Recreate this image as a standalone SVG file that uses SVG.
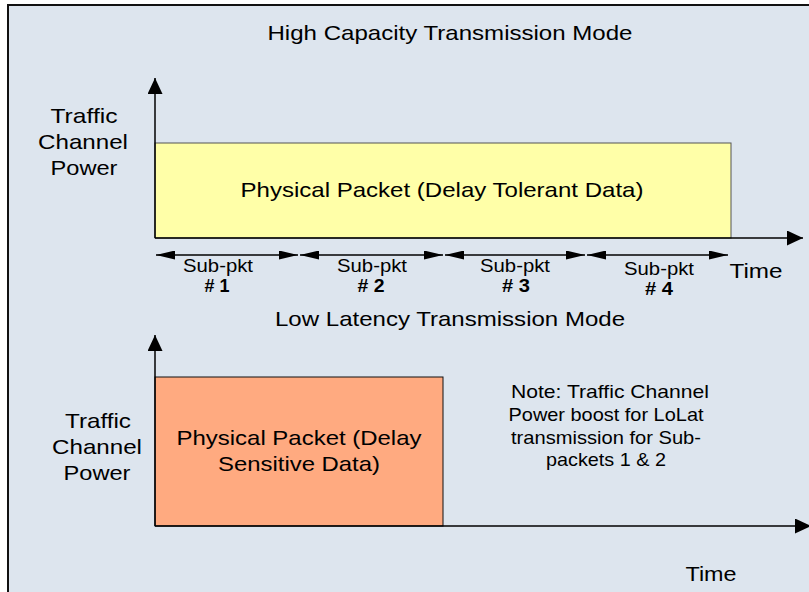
<svg xmlns="http://www.w3.org/2000/svg" width="809" height="592" viewBox="0 0 809 592">
<defs>
<style>
text{font-family:"Liberation Sans",Arial,sans-serif;fill:#000;text-anchor:middle}
.big{font-size:21px}
.lbl{font-size:21px}
.sm{font-size:18px}
.num{font-size:18px;font-weight:bold}
.note{font-size:19px}
.ax{stroke:#000;stroke-width:1.5;fill:none}
.sub{stroke:#000;stroke-width:1.3;fill:none}
</style>
<marker id="ah" viewBox="0 0 16 15" refX="16" refY="7.5" markerWidth="16" markerHeight="15" markerUnits="userSpaceOnUse" orient="auto"><path d="M0,0 L16,7.5 L0,15 Z" fill="#000"/></marker>
<marker id="sa" viewBox="0 0 19 9" refX="19" refY="4.5" markerWidth="19" markerHeight="9" markerUnits="userSpaceOnUse" orient="auto-start-reverse"><path d="M0,0 L19,4.5 L0,9 Z" fill="#000"/></marker>
</defs>
<rect x="0" y="0" width="809" height="592" fill="#fff"/>
<rect x="8" y="5" width="820" height="600" fill="#dde5ee" stroke="#111" stroke-width="2"/>

<text class="big" x="450" y="40" textLength="365" lengthAdjust="spacingAndGlyphs">High Capacity Transmission Mode</text>
<text class="big" x="450" y="326" textLength="350" lengthAdjust="spacingAndGlyphs">Low Latency Transmission Mode</text>

<g id="packet-tolerant">
<rect x="155" y="143" width="576" height="95" fill="#ffffa8" stroke="#555" stroke-width="1"/>
<text class="lbl" x="442" y="197" textLength="403" lengthAdjust="spacingAndGlyphs">Physical Packet (Delay Tolerant Data)</text>
</g>
<g id="packet-sensitive">
<rect x="155" y="377" width="288" height="149" fill="#ffaa80" stroke="#111" stroke-width="1"/>
<text class="lbl" x="299" y="445" textLength="245" lengthAdjust="spacingAndGlyphs">Physical Packet (Delay</text>
<text class="lbl" x="299" y="471" textLength="162" lengthAdjust="spacingAndGlyphs">Sensitive Data)</text>
</g>

<g id="connectors">
<line class="ax" x1="155" y1="238" x2="155" y2="78" marker-end="url(#ah)"/>
<line class="ax" x1="155" y1="238" x2="803" y2="238" marker-end="url(#ah)"/>
<line class="ax" x1="155" y1="526" x2="155" y2="335" marker-end="url(#ah)"/>
<line class="ax" x1="155" y1="526" x2="811" y2="526" marker-end="url(#ah)"/>
<line class="sub" x1="156" y1="255" x2="298" y2="255" marker-start="url(#sa)" marker-end="url(#sa)"/>
<line class="sub" x1="300" y1="255" x2="443" y2="255" marker-start="url(#sa)" marker-end="url(#sa)"/>
<line class="sub" x1="445" y1="255" x2="585" y2="255" marker-start="url(#sa)" marker-end="url(#sa)"/>
<line class="sub" x1="587" y1="255" x2="728" y2="255" marker-start="url(#sa)" marker-end="url(#sa)"/>
</g>

<g id="axis-labels">
<text class="lbl" x="84" y="123" textLength="67" lengthAdjust="spacingAndGlyphs">Traffic</text>
<text class="lbl" x="83" y="149" textLength="90" lengthAdjust="spacingAndGlyphs">Channel</text>
<text class="lbl" x="84" y="175" textLength="67" lengthAdjust="spacingAndGlyphs">Power</text>
<text class="lbl" x="98" y="428" textLength="66" lengthAdjust="spacingAndGlyphs">Traffic</text>
<text class="lbl" x="97" y="454" textLength="90" lengthAdjust="spacingAndGlyphs">Channel</text>
<text class="lbl" x="97" y="480" textLength="67" lengthAdjust="spacingAndGlyphs">Power</text>
<text class="lbl" x="756" y="278" textLength="53" lengthAdjust="spacingAndGlyphs">Time</text>
<text class="lbl" x="711" y="581" textLength="51" lengthAdjust="spacingAndGlyphs">Time</text>
</g>

<g id="subpkt-labels">
<text class="sm" x="218" y="272" textLength="70" lengthAdjust="spacingAndGlyphs">Sub-pkt</text>
<text class="num" x="217" y="292" textLength="25" lengthAdjust="spacingAndGlyphs"># 1</text>
<text class="sm" x="372" y="272" textLength="70" lengthAdjust="spacingAndGlyphs">Sub-pkt</text>
<text class="num" x="371" y="292" textLength="27" lengthAdjust="spacingAndGlyphs"># 2</text>
<text class="sm" x="515" y="272" textLength="70" lengthAdjust="spacingAndGlyphs">Sub-pkt</text>
<text class="num" x="516" y="292" textLength="28" lengthAdjust="spacingAndGlyphs"># 3</text>
<text class="sm" x="659" y="275" textLength="70" lengthAdjust="spacingAndGlyphs">Sub-pkt</text>
<text class="num" x="659" y="295" textLength="28" lengthAdjust="spacingAndGlyphs"># 4</text>
</g>

<g id="note">
<text class="note" x="610" y="398" textLength="198" lengthAdjust="spacingAndGlyphs">Note: Traffic Channel</text>
<text class="note" x="606" y="421" textLength="195" lengthAdjust="spacingAndGlyphs">Power boost for LoLat</text>
<text class="note" x="606" y="444" textLength="190" lengthAdjust="spacingAndGlyphs">transmission for Sub-</text>
<text class="note" x="606" y="466" textLength="120" lengthAdjust="spacingAndGlyphs">packets 1 &amp; 2</text>
</g>
</svg>
